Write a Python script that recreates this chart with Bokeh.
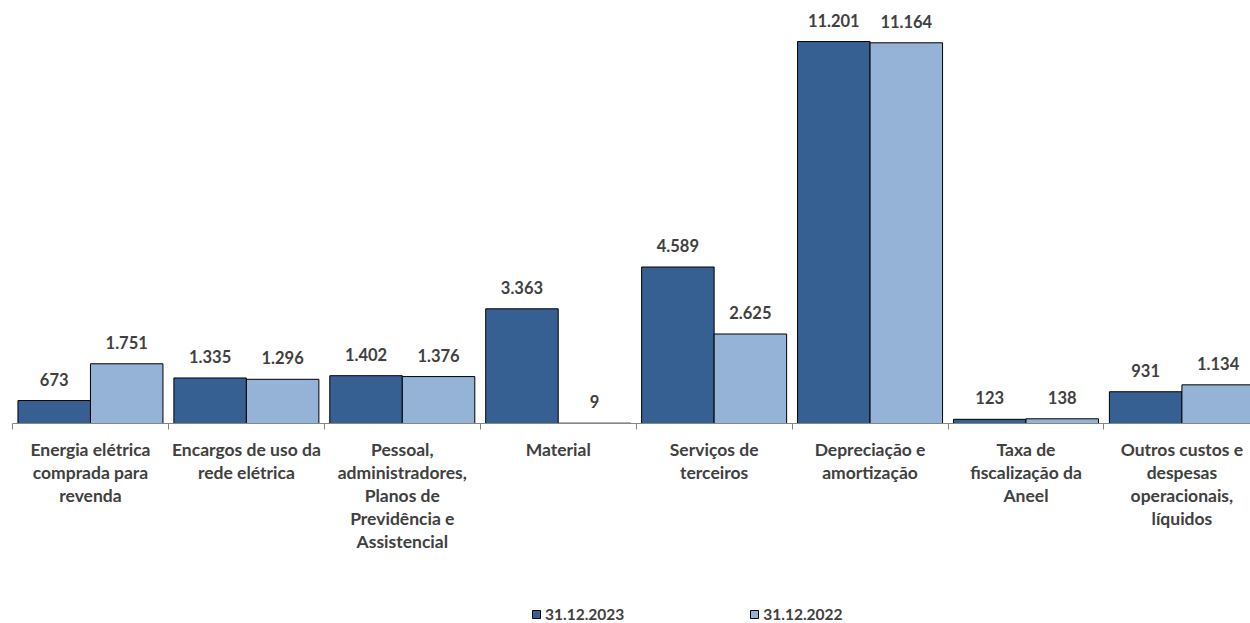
from bokeh.plotting import figure
from bokeh.layouts import column
from bokeh.models import ColumnDataSource, FixedTicker, Legend, LegendItem, Range1d
from bokeh.core.properties import value
from bokeh.embed import file_html
from bokeh.resources import INLINE

categories = [
    "Energia elétrica\ncomprada para\nrevenda",
    "Encargos de uso da\nrede elétrica",
    "Pessoal,\nadministradores,\nPlanos de\nPrevidência e\nAssistencial",
    "Material",
    "Serviços de\nterceiros",
    "Depreciação e\namortização",
    "Taxa de\nfiscalização da\nAneel",
    "Outros custos e\ndespesas\noperacionais,\nlíquidos",
]
values_2023 = [673, 1335, 1402, 3363, 4589, 11201, 123, 931]
values_2022 = [1751, 1296, 1376, 9, 2625, 11164, 138, 1134]
series_labels = ["31.12.2023", "31.12.2022"]

DARK = "#366092"
LIGHT = "#95B3D7"
TXT = "#404040"
FONT = "Lato"


def fmt(v):
    return f"{v:,}".replace(",", ".")


centers = [i + 0.5 for i in range(len(categories))]
off = 0.2325
bw = 0.465

src23 = ColumnDataSource(dict(x=[c - off for c in centers], top=values_2023,
                              lab=[fmt(v) for v in values_2023]))
src22 = ColumnDataSource(dict(x=[c + off for c in centers], top=values_2022,
                              lab=[fmt(v) for v in values_2022]))

p = figure(width=1250, height=590, output_backend="svg",
           toolbar_location=None,
           x_range=Range1d(0, 7.94), y_range=Range1d(0, 12170),
           min_border_left=12, min_border_right=0, min_border_top=8,
           min_border_bottom=167)
p.outline_line_color = None
p.xgrid.visible = False
p.ygrid.visible = False
p.yaxis.visible = False

p.vbar(x="x", top="top", width=bw, source=src23, fill_color=DARK,
       line_color="black", line_width=1)
p.vbar(x="x", top="top", width=bw, source=src22, fill_color=LIGHT,
       line_color="black", line_width=1)

for s in (src23, src22):
    p.text(x="x", y="top", text="lab", source=s, text_align="center",
           text_baseline="bottom", y_offset=-15, text_font=value(FONT),
           text_font_style="bold", text_font_size="16.5px", text_color=TXT)

ax = p.xaxis[0]
ax.ticker = FixedTicker(ticks=centers, minor_ticks=list(range(len(categories) + 1)))
ax.major_label_overrides = {c: lab for c, lab in zip(centers, categories)}
ax.major_tick_line_color = None
ax.minor_tick_line_color = "#868686"
ax.minor_tick_out = 6
ax.minor_tick_in = 0
ax.axis_line_color = "#868686"
ax.axis_line_width = 1
ax.major_label_standoff = 9
ax.major_label_text_font = FONT
ax.major_label_text_font_style = "bold"
ax.major_label_text_font_size = "17.5px"
ax.major_label_text_color = TXT
ax.major_label_text_line_height = 1.1

# legend strip below the chart (keys use the same data, hidden)
lg = figure(width=1250, height=33, output_backend="svg", toolbar_location=None,
            x_range=Range1d(0, 1), y_range=Range1d(0, 1),
            min_border_left=0, min_border_right=0, min_border_top=0,
            min_border_bottom=0)
lg.outline_line_color = None
lg.axis.visible = False
lg.grid.visible = False
k1 = lg.vbar(x="x", top="top", width=bw, source=src23, fill_color=DARK,
             line_color="black", line_width=1, visible=False)
k2 = lg.vbar(x="x", top="top", width=bw, source=src22, fill_color=LIGHT,
             line_color="black", line_width=1, visible=False)
legend = Legend(items=[LegendItem(label=series_labels[0], renderers=[k1]),
                       LegendItem(label=series_labels[1], renderers=[k2])],
                orientation="horizontal", location=(519, 0),
                spacing=125, glyph_width=10, glyph_height=10, label_standoff=4,
                label_text_font=FONT, label_text_font_style="bold",
                label_text_font_size="15.5px", label_text_color=TXT,
                background_fill_alpha=0, border_line_color=None,
                inactive_fill_alpha=0, margin=0, padding=0)
lg.add_layout(legend)

open("out.html", "w").write(file_html(column(p, lg, spacing=0), INLINE))
